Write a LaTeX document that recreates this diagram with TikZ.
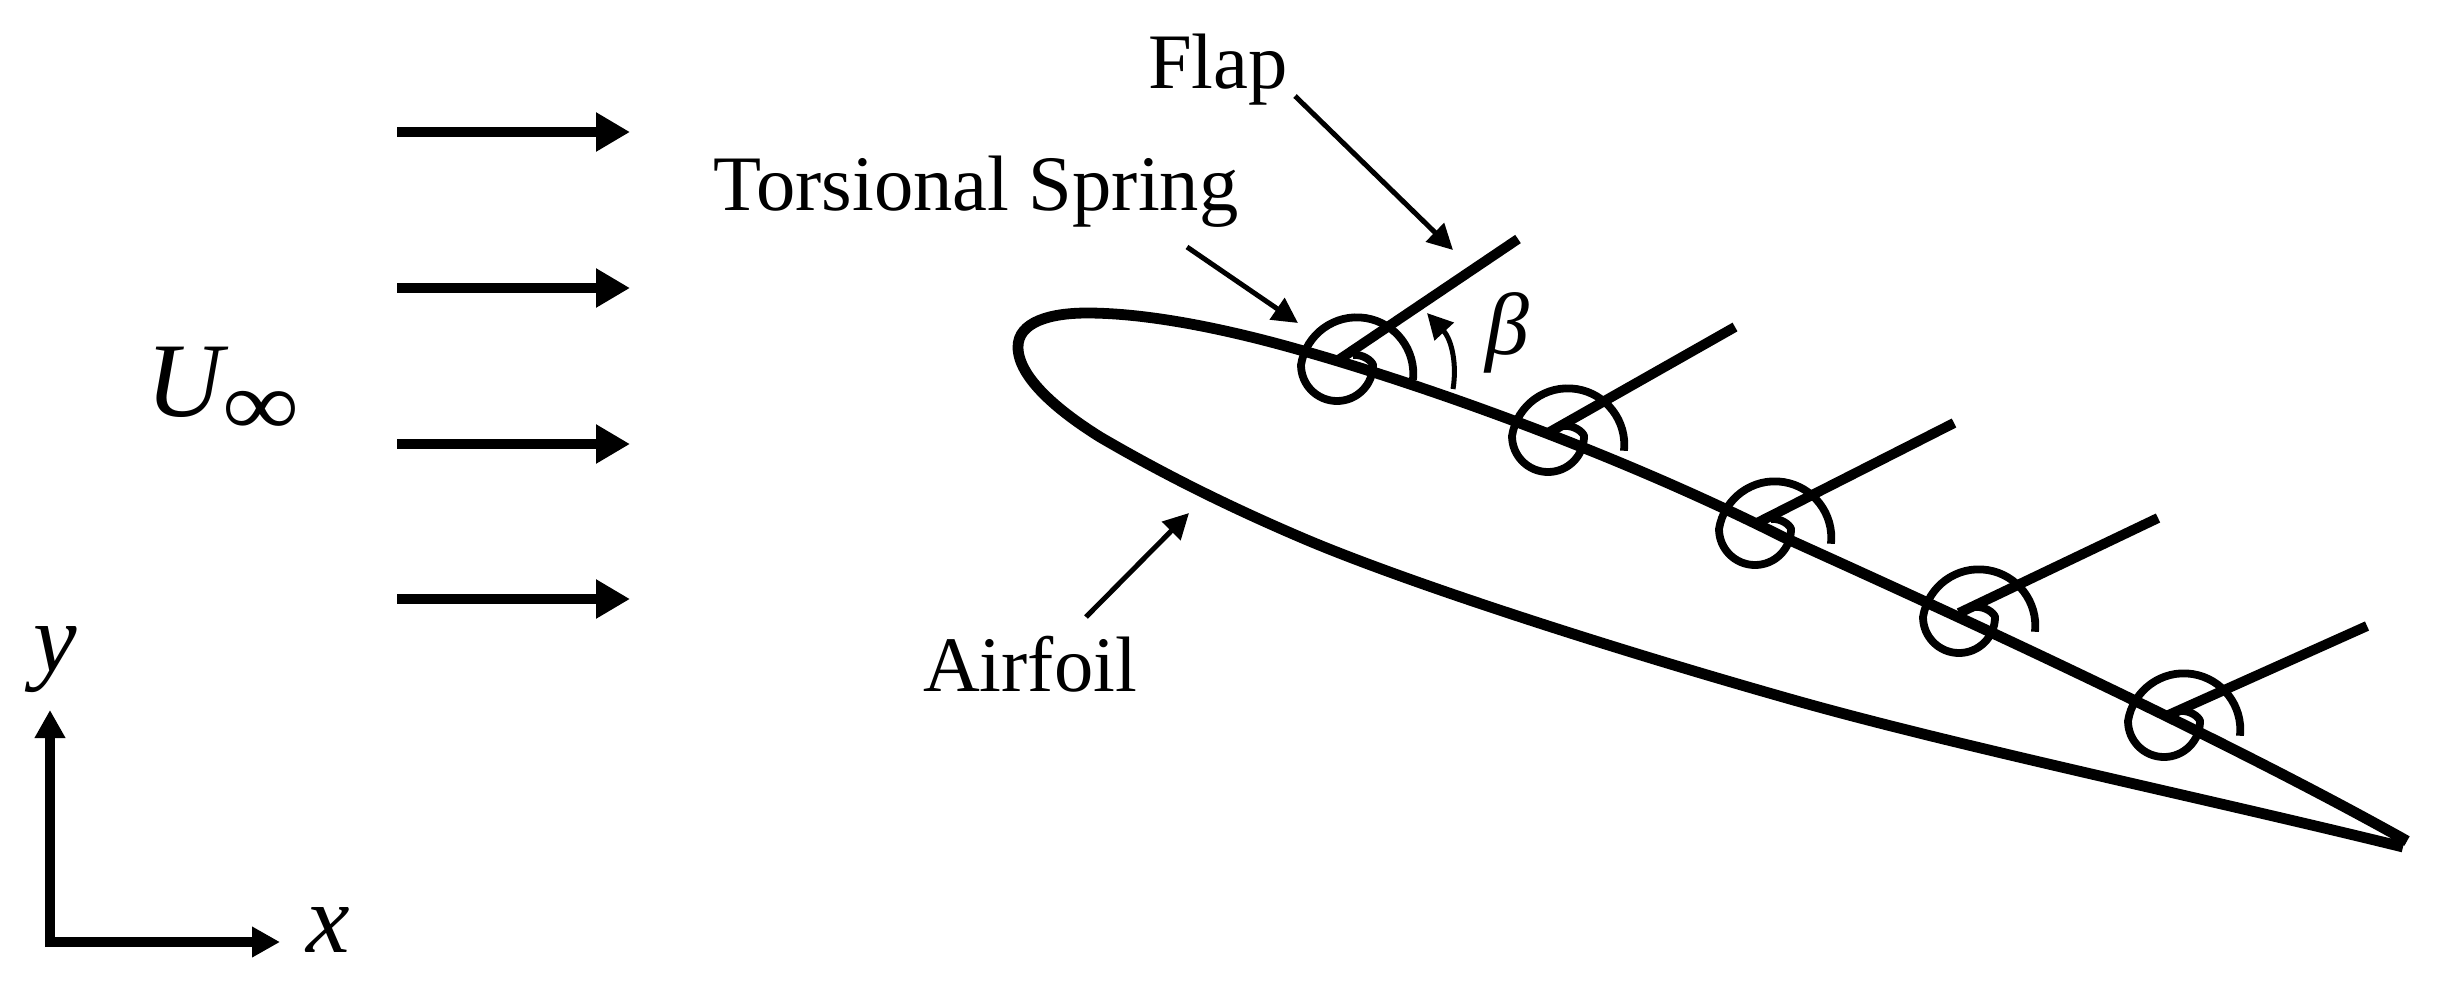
\documentclass[tikz,border=0pt]{standalone}
\usepackage{fontspec}
\setmainfont{Liberation Serif}
\usetikzlibrary{arrows.meta}
\tikzset{
  bodyline/.style={line width=5.4pt,line cap=butt,line join=round},
  flapline/.style={line width=5pt,line cap=butt},
  springline/.style={line width=3.9pt},
  flowarrow/.style={line width=5pt,-{Triangle[length=17pt,width=18.5pt]}},
  axisarrow/.style={line width=5pt,-{Triangle[length=14pt,width=14.5pt]}},
  leader/.style={line width=2.5pt,-{Triangle[length=12.7pt,width=12.7pt]}},
  lbl/.style={inner sep=0pt,font=\fontsize{39.3}{46}\selectfont},
  sym/.style={inner sep=0pt,font=\fontsize{49}{56}\selectfont\itshape},
}
\newcommand{\springat}[1]{%
  \draw[springline,shift={(#1)}] (16,-10) .. controls (26,-11) and (35,-4) .. (36,0)
    arc[start angle=0,end angle=180,radius=36]
    arc[start angle=189,end angle=366,radius=56.5];}
\begin{document}
\begin{tikzpicture}[x=0.5pt,y=-0.5pt]
\useasboundingbox (0,0) rectangle (2440,987);
% flow arrows
\foreach \n/\yy in {a/132,b/288,c/444,d/599}{
  \coordinate (f\n s) at (397,\yy);
  \coordinate (f\n e) at (630,\yy);
  \draw[flowarrow] (f\n s) -- (f\n e);
}
\node[sym,anchor=base west,font=\fontsize{53}{60}\selectfont\itshape] (uinf) at (146,416) {U\raisebox{-9.6pt}{\scalebox{1.35}[1.15]{\fontsize{40}{46}\selectfont\upshape ∞}}};
% axes
\coordinate (orig) at (50,942);
\coordinate (xend) at (280,942);
\coordinate (yend) at (50,710);
\draw[axisarrow] ([yshift=-2.5pt]orig) -- (yend);
\draw[axisarrow] ([xshift=-2.5pt]orig) -- (xend);
\node[sym] (xl) at (328,930) {x};
\node[sym] (yl) at (55,660) {y};
% airfoil
\draw[bodyline] (2403,847) .. controls (2200,797) and (1950,745) .. (1783,697)
  .. controls (1600,645) and (1400,580) .. (1300,537)
  .. controls (1230,507) and (1165,475) .. (1100,437)
  .. controls (1060,412) and (1018,378) .. (1018,347)
  .. controls (1018,322) and (1050,313) .. (1087,313)
  .. controls (1150,313) and (1230,330) .. (1300,350)
  .. controls (1400,378) and (1600,445) .. (1783,537)
  .. controls (1900,590) and (2200,725) .. (2407,841);
% flaps
\foreach \n/\ax/\ay/\bx/\by in {1/1337/361/1518/239,2/1548/433/1735/327,3/1755/524/1954/423,4/1959/613/2158/518,5/2164/717/2367/626}{
  \coordinate (h\n) at (\ax,\ay);
  \coordinate (t\n) at (\bx,\by);
  \draw[flapline] (h\n) -- (t\n);
}
% springs
\coordinate (s1) at (1337,365);
\coordinate (s2) at (1548,436);
\coordinate (s3) at (1755,529);
\coordinate (s4) at (1959,617);
\coordinate (s5) at (2164,721);
\springat{s1}\springat{s2}\springat{s3}\springat{s4}\springat{s5}
% labels and leaders
\node[lbl] (flap) at (1218,70) {Flap};
\node[lbl] (spring) at (976,192) {Torsional Spring};
\node[lbl] (airfoil) at (1030,664) {Airfoil};
\coordinate (fa) at (1295,96);
\coordinate (fb) at (1453,250);
\coordinate (sa) at (1187,247);
\coordinate (sb) at (1298,323);
\coordinate (aa) at (1086,617);
\coordinate (ab) at (1189,513);
\draw[leader] (fa) -- (fb);
\draw[leader] (sa) -- (sb);
\draw[leader] (aa) -- (ab);
% beta
\coordinate (ba) at (1453,389);
\coordinate (bb) at (1427,313);
\draw[leader] (ba) .. controls (1457,365) and (1452,340) .. (bb);
\node[sym,font=\fontsize{44}{52}\selectfont\itshape] (beta) at (1507,333) {β};
\end{tikzpicture}
\end{document}
